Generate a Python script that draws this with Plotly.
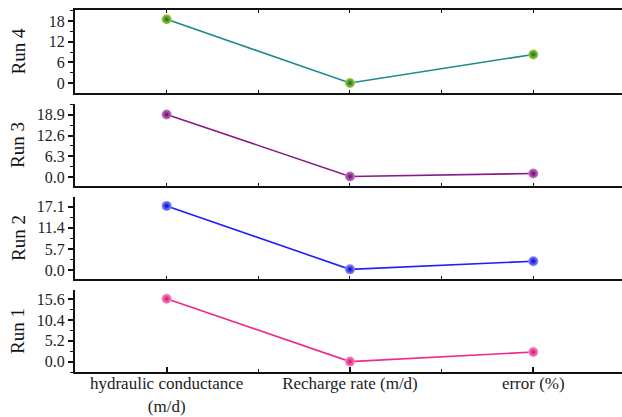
import plotly.graph_objects as go

categories = ["hydraulic conductance<br>(m/d)", "Recharge rate (m/d)", "error (%)"]
runs = ["Run 1", "Run 2", "Run 3", "Run 4"]
run1 = [15.7, 0.0, 2.4]
run2 = [17.3, 0.2, 2.4]
run3 = [19.0, 0.2, 1.1]
run4 = [18.5, 0.0, 8.3]
ticks1 = [0.0, 5.2, 10.4, 15.6]
ticks2 = [0.0, 5.7, 11.4, 17.1]
ticks3 = [0.0, 6.3, 12.6, 18.9]
ticks4 = [0, 6, 12, 18]
ticktext1 = ["0.0", "5.2", "10.4", "15.6"]
ticktext2 = ["0.0", "5.7", "11.4", "17.1"]
ticktext3 = ["0.0", "6.3", "12.6", "18.9"]
ticktext4 = ["0", "6", "12", "18"]
ranges = [[-2.6, 17.9], [-2.4, 19.7], [-2.7, 22.2], [-2.9, 21.2]]

values = [run1, run2, run3, run4]
tickvals = [ticks1, ticks2, ticks3, ticks4]
ticktexts = [ticktext1, ticktext2, ticktext3, ticktext4]
line_colors = ["#f0288c", "#1e1eff", "#8a1a8a", "#178c8c"]
marker_colors = ["#ff90c8", "#9090ff", "#c880c8", "#b0d030"]
marker_edges = ["#d0106e", "#0000d0", "#6a006a", "#08683c"]

domains = [[0.1079, 0.3046], [0.3309, 0.5276], [0.5540, 0.7506], [0.7770, 0.9760]]

W, H = 622, 417
ML = 75
FONT = "Liberation Serif"
xpos = list(range(len(categories)))

fig = go.Figure()
layout = dict(
    width=W, height=H,
    margin=dict(l=ML, r=0, t=0, b=0),
    paper_bgcolor="white", plot_bgcolor="white",
    showlegend=False,
    font=dict(family=FONT, size=16, color="#222"),
)

annotations = []
for i in range(4):
    n = i + 1
    xa = "x" if n == 1 else f"x{n}"
    ya = "y" if n == 1 else f"y{n}"
    fig.add_trace(go.Scatter(
        x=xpos, y=values[i], xaxis=xa, yaxis=ya, mode="lines+markers",
        line=dict(color=line_colors[i], width=1.6),
        marker=dict(size=10, color=marker_colors[i],
                    gradient=dict(type="radial", color=marker_edges[i]),
                    line=dict(width=0)),
    ))
    step = tickvals[i][1] - tickvals[i][0]
    xkey = "xaxis" if n == 1 else f"xaxis{n}"
    ykey = "yaxis" if n == 1 else f"yaxis{n}"
    layout[xkey] = dict(
        domain=[0, 1], anchor=ya, range=[-0.5, 2.484],
        tickmode="array", tickvals=xpos,
        ticktext=categories if n == 1 else [""] * 3,
        showticklabels=(n == 1),
        ticks="inside", ticklen=5, tickwidth=1.5, tickcolor="#111",
        showline=True, linewidth=2, linecolor="#111",
        mirror="ticks" if n == 4 else False,
        showgrid=False, zeroline=False, automargin=False,
        ticklabelstandoff=-5,
        minor=dict(tick0=-0.5, dtick=0.5, ticks="inside", ticklen=3, tickwidth=1, tickcolor="#111"),
        tickfont=dict(family=FONT, size=17, color="#222"),
    )
    layout[ykey] = dict(
        domain=domains[i], anchor=xa, range=ranges[i],
        tickmode="array", tickvals=tickvals[i], ticktext=ticktexts[i],
        ticks="outside", ticklen=5, tickwidth=1.5, tickcolor="#111",
        showline=True, linewidth=2, linecolor="#111",
        showgrid=False, zeroline=False, automargin=False,
        minor=dict(tick0=0, dtick=step / 2, ticks="outside", ticklen=3, tickwidth=1, tickcolor="#111"),
        tickfont=dict(family=FONT, size=16, color="#222"),
    )
    rkey = f"yaxis{n + 4}"
    layout[rkey] = dict(
        overlaying=ya, side="right", anchor=xa, range=ranges[i],
        tickmode="array", tickvals=tickvals[i], showticklabels=False,
        ticks="inside", ticklen=5, tickwidth=1.5, tickcolor="#111",
        showline=False, showgrid=False, zeroline=False, automargin=False,
        minor=dict(tick0=0, dtick=step / 2, ticks="inside", ticklen=3, tickwidth=1, tickcolor="#999"),
    )
    annotations.append(dict(
        text=runs[i], xref="paper", yref="paper",
        x=(18 - ML) / (W - ML), y=sum(domains[i]) / 2,
        xanchor="center", yanchor="middle", textangle=-90, showarrow=False,
        font=dict(family=FONT, size=19, color="#111"),
    ))

layout["annotations"] = annotations
fig.update_layout(**layout)
fig.write_html("out.html")
